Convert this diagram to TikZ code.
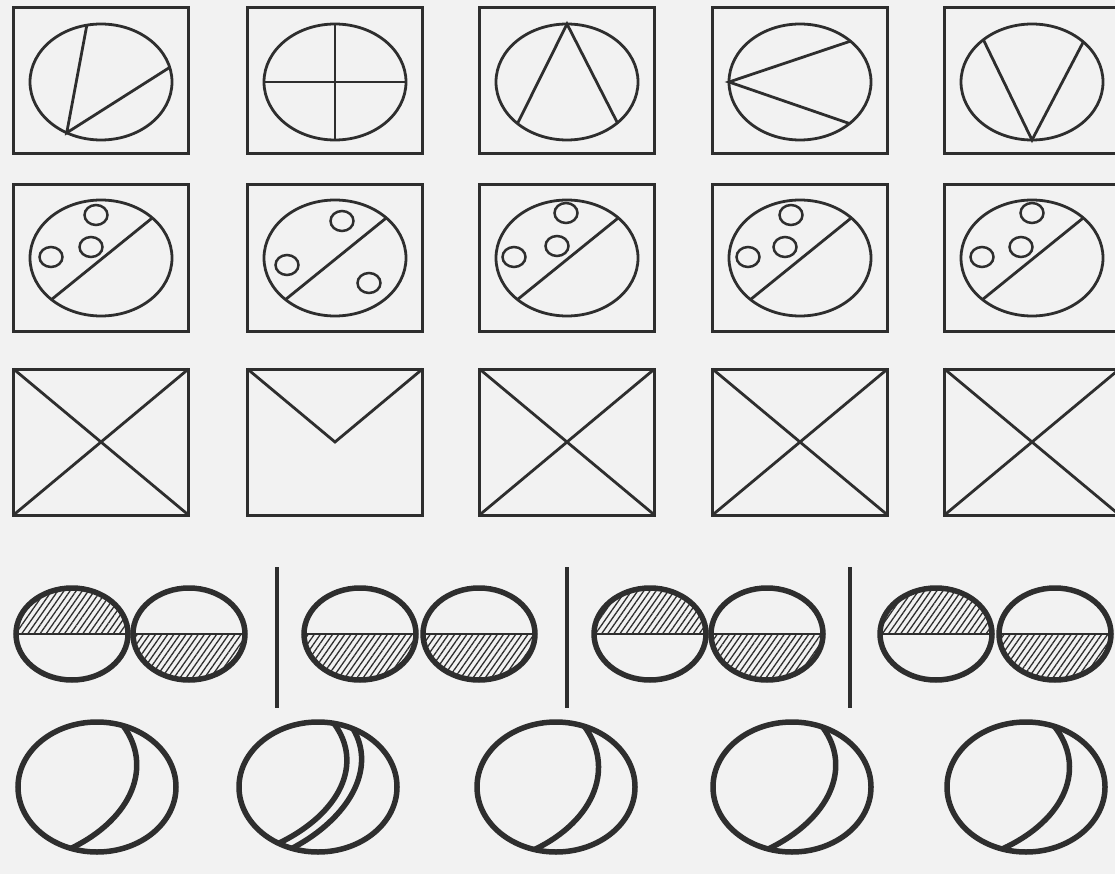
\documentclass[tikz,border=0pt]{standalone}
\usetikzlibrary{shapes.geometric,patterns.meta}
\colorlet{ink}{black!82}
\tikzset{
  frame/.style={draw=ink,line width=3pt,minimum width=175pt,minimum height=146pt,
    inner sep=0pt,outer sep=0pt},
  disc/.style={ellipse,draw=ink,line width=2.8pt,minimum width=142pt,minimum height=116pt,
    inner sep=0pt,outer sep=0pt},
  chord/.style={draw=ink,line width=2.8pt},
  dot/.style={ellipse,draw=ink,line width=2.5pt,minimum width=23pt,minimum height=20pt,
    inner sep=0pt,outer sep=0pt},
  lens/.style={ellipse,draw=ink,line width=5.5pt,minimum width=112pt,minimum height=92pt,
    inner sep=0pt,outer sep=0pt},
  hatch/.style={pattern={Lines[angle=55,distance=5pt,line width=1.3pt]},pattern color=ink},
  hatchtop/.style={path picture={\fill[hatch] (path picture bounding box.west)
    rectangle (path picture bounding box.north east);}},
  hatchbottom/.style={path picture={\fill[hatch] (path picture bounding box.south west)
    rectangle (path picture bounding box.east);}},
  split/.style={draw=ink,line width=1.6pt},
  bar/.style={draw=ink,line width=4pt},
  moon/.style={ellipse,draw=ink,line width=5.5pt,minimum width=158pt,minimum height=130pt,
    inner sep=0pt,outer sep=0pt},
  rim/.style={draw=ink,line width=5.5pt}
}
\begin{document}
\begin{tikzpicture}[x=1pt,y=-1pt]
  \path[fill=black!5,use as bounding box] (0,0) rectangle (1115,874);
  % row 1: circles with chords
  \node[frame] (f11) at (101,81) {};
  \node[frame] (f12) at (335,81) {};
  \node[frame] (f13) at (567,81) {};
  \node[frame] (f14) at (800,81) {};
  \node[frame] (f15) at (1032,81) {};
  \node[disc] (c11) at (101,82) {};
  \node[disc] (c12) at (335,82) {};
  \node[disc] (c13) at (567,82) {};
  \node[disc] (c14) at (800,82) {};
  \node[disc] (c15) at (1032,82) {};
  \draw[chord] (c11.104) -- (c11.236) -- (c11.12);
  \draw[chord] (c12.north) -- (c12.south) (c12.west) -- (c12.east);
  \draw[chord] (c13.220) -- (c13.90) -- (c13.321);
  \draw[chord] (c14.39) -- (c14.180) -- (c14.320);
  \draw[chord] (c15.139) -- (c15.270) -- (c15.38);
  % row 2: circles with three dots
  \node[frame] (f21) at (101,258) {};
  \node[frame] (f22) at (335,258) {};
  \node[frame] (f23) at (567,258) {};
  \node[frame] (f24) at (800,258) {};
  \node[frame] (f25) at (1032,258) {};
  \node[disc] (c21) at (101,258) {};
  \node[disc] (c22) at (335,258) {};
  \node[disc] (c23) at (567,258) {};
  \node[disc] (c24) at (800,258) {};
  \node[disc] (c25) at (1032,258) {};
  \draw[chord] (c21.220) -- (c21.38);
  \draw[chord] (c22.220) -- (c22.38);
  \draw[chord] (c23.220) -- (c23.38);
  \draw[chord] (c24.220) -- (c24.38);
  \draw[chord] (c25.220) -- (c25.38);
  \node[dot] (d211) at (96,215) {};
  \node[dot] (d212) at (91,247) {};
  \node[dot] (d213) at (51,257) {};
  \node[dot] (d221) at (342,221) {};
  \node[dot] (d222) at (287,265) {};
  \node[dot] (d223) at (369,283) {};
  \node[dot] (d231) at (566,213) {};
  \node[dot] (d232) at (557,246) {};
  \node[dot] (d233) at (514,257) {};
  \node[dot] (d241) at (791,215) {};
  \node[dot] (d242) at (785,247) {};
  \node[dot] (d243) at (748,257) {};
  \node[dot] (d251) at (1032,213) {};
  \node[dot] (d252) at (1021,247) {};
  \node[dot] (d253) at (982,257) {};
  % row 3: crossed boxes
  \node[frame] (f31) at (101,442) {};
  \node[frame] (f32) at (335,442) {};
  \node[frame] (f33) at (567,442) {};
  \node[frame] (f34) at (800,442) {};
  \node[frame] (f35) at (1032,442) {};
  \draw[chord] (f31.north west) -- (f31.south east) (f31.north east) -- (f31.south west);
  \draw[chord] (f32.north west) -- (f32.center) -- (f32.north east);
  \draw[chord] (f33.north west) -- (f33.south east) (f33.north east) -- (f33.south west);
  \draw[chord] (f34.north west) -- (f34.south east) (f34.north east) -- (f34.south west);
  \draw[chord] (f35.north west) -- (f35.south east) (f35.north east) -- (f35.south west);
  % row 4: hatched pairs
  \node[lens,hatchtop] (l1) at (72,634) {};
  \node[lens,hatchbottom] (l2) at (189,634) {};
  \node[lens,hatchbottom] (l3) at (360,634) {};
  \node[lens,hatchbottom] (l4) at (479,634) {};
  \node[lens,hatchtop] (l5) at (650,634) {};
  \node[lens,hatchbottom] (l6) at (767,634) {};
  \node[lens,hatchtop] (l7) at (936,634) {};
  \node[lens,hatchbottom] (l8) at (1055,634) {};
  \draw[split] (l1.west) -- (l1.east) (l2.west) -- (l2.east);
  \draw[split] (l3.west) -- (l3.east) (l4.west) -- (l4.east);
  \draw[split] (l5.west) -- (l5.east) (l6.west) -- (l6.east);
  \draw[split] (l7.west) -- (l7.east) (l8.west) -- (l8.east);
  \coordinate (s1t) at (277,567);
  \coordinate (s1b) at (277,708);
  \coordinate (s2t) at (567,567);
  \coordinate (s2b) at (567,708);
  \coordinate (s3t) at (850,567);
  \coordinate (s3b) at (850,708);
  \draw[bar] (s1t) -- (s1b);
  \draw[bar] (s2t) -- (s2b);
  \draw[bar] (s3t) -- (s3b);
  % row 5: crescents
  \node[moon] (m1) at (97,787) {};
  \node[moon] (m2) at (318,787) {};
  \node[moon] (m3) at (556,787) {};
  \node[moon] (m4) at (792,787) {};
  \node[moon] (m5) at (1026,787) {};
  \draw[rim] (m1.67) .. controls +(30,40) and +(62,-30) .. (m1.247);
  \draw[rim] (m2.76) .. controls +(30,40) and +(62,-30) .. (m2.235);
  \draw[rim] (m2.59) .. controls +(24,40) and +(57,-30) .. (m2.247);
  \draw[rim] (m3.65) .. controls +(30,40) and +(62,-30) .. (m3.251);
  \draw[rim] (m4.63) .. controls +(30,40) and +(62,-30) .. (m4.249);
  \draw[rim] (m5.65) .. controls +(32,40) and +(65,-30) .. (m5.249);
\end{tikzpicture}
\end{document}
